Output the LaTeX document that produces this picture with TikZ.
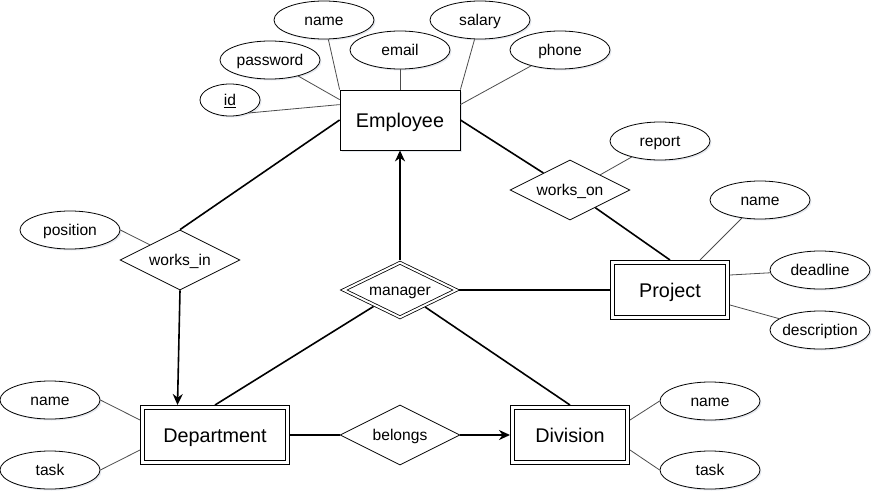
\documentclass[tikz,border=0pt]{standalone}
\usepackage{fontspec}
\setmainfont{Liberation Sans}
\usetikzlibrary{shapes.geometric,arrows.meta,shadows}
\definecolor{shadegray}{RGB}{112,128,160}

\begin{document}
\begin{tikzpicture}[x=1pt,y=-1pt]
\tikzset{every node/.style={inner sep=0pt, text height=11.2pt, text depth=0pt, font=\fontsize{15.6}{18}\selectfont}}
\tikzset{shade box/.style={drop shadow={shadow xshift=1.5pt, shadow yshift=-1.5pt, opacity=0.18, fill=shadegray}}}
\tikzset{entity/.style={draw, rectangle, fill=white, line width=0.8pt, minimum width=120pt, minimum height=60pt, text height=14.2pt, font=\fontsize{19.8}{23}\selectfont, shade box}}
\tikzset{weak entity/.style={entity, double, double distance=3.6pt, outer sep=2.6pt, minimum width=114.8pt, minimum height=54.8pt}}
\tikzset{rel/.style={draw, diamond, fill=white, line width=0.8pt, aspect=2, minimum width=120pt, minimum height=60pt}}
\tikzset{weak rel/.style={rel, double, double distance=2pt, outer sep=1.8pt, minimum width=114pt, minimum height=56pt}}
\tikzset{attr/.style={draw, ellipse, fill=white, line width=0.8pt, minimum width=100pt, minimum height=38pt, inner xsep=-8pt, shade box}}
\tikzset{attr link/.style={draw=black!70, line width=0.8pt}}
\tikzset{rel link/.style={draw=black, line width=1.6pt}}
\tikzset{>={Stealth[length=11pt,width=10pt,inset=3.5pt]}}
\useasboundingbox (0,0) rectangle (882,503);

% entities
\node[entity] (emp) at (400,120) {Employee};
\node[weak entity] (proj) at (670,290) {Project};
\node[weak entity, minimum width=144.8pt] (dept) at (215,435) {Department};
\node[weak entity] (div) at (570,435) {Division};

% relationships
\node[rel] (wi) at (180,260) {works\_in};
\node[rel] (wo) at (570,190) {works\_on};
\node[weak rel] (mgr) at (400,290) {manager};
\node[rel] (bel) at (400,435) {belongs};

% attributes
\node[attr] (ename) at (324,20) {name};
\node[attr] (email) at (400,50) {email};
\node[attr] (esal) at (480,20) {salary};
\node[attr] (ephone) at (560,50) {phone};
\node[attr] (epw) at (270,60) {password};
\node[attr, minimum width=60pt, minimum height=32pt] (eid) at (230,100) {\underline{id}};
\node[attr] (pos) at (70,230) {position};
\node[attr] (rep) at (660,141) {report};
\node[attr] (pname) at (760,200) {name};
\node[attr] (pdl) at (820,270) {deadline};
\node[attr] (pdesc) at (820,330) {description};
\node[attr] (dname) at (50,400) {name};
\node[attr] (dtask) at (50,470) {task};
\node[attr] (vname) at (710,401) {name};
\node[attr] (vtask) at (710,470) {task};

% attribute links
\draw[attr link] (ename) -- (emp.north west);
\draw[attr link] (epw) -- ([yshift=-10pt]emp.north west);
\draw[attr link] (eid.-35) -- ([yshift=-15pt]emp.north west);
\draw[attr link] (email) -- (emp);
\draw[attr link] (esal) -- (emp.north east);
\draw[attr link] (ephone) -- ([yshift=-15pt]emp.north east);
\draw[attr link] (pos.east) -- (wi.north west);
\draw[attr link] (rep) -- (wo.north east);
\draw[attr link] (pname) -- ([xshift=30pt]proj.north);
\draw[attr link] (pdl) -- ([yshift=-15pt]proj.north east);
\draw[attr link] (pdesc) -- ([yshift=15pt]proj.south east);
\draw[attr link] (dname.east) -- ([yshift=-15pt]dept.north west);
\draw[attr link] (dtask.east) -- ([yshift=15pt]dept.south west);
\draw[attr link] (vname.west) -- ([yshift=-15pt]div.north east);
\draw[attr link] (vtask.west) -- ([yshift=15pt]div.south east);

% relationship links
\draw[rel link] (wi.north) -- (emp.west);
\draw[rel link, ->] (wi.south) -- ([xshift=-37.5pt]dept.north);
\draw[rel link] (emp.east) -- (wo);
\draw[rel link] (wo) -- (proj.north);
\draw[rel link, ->] (mgr) -- (emp);
\draw[rel link] (mgr) -- (proj);
\draw[rel link] (mgr) -- (dept.north);
\draw[rel link] (mgr) -- (div.north);
\draw[rel link] (dept) -- (bel);
\draw[rel link, ->] (bel) -- (div);
\end{tikzpicture}
\end{document}
